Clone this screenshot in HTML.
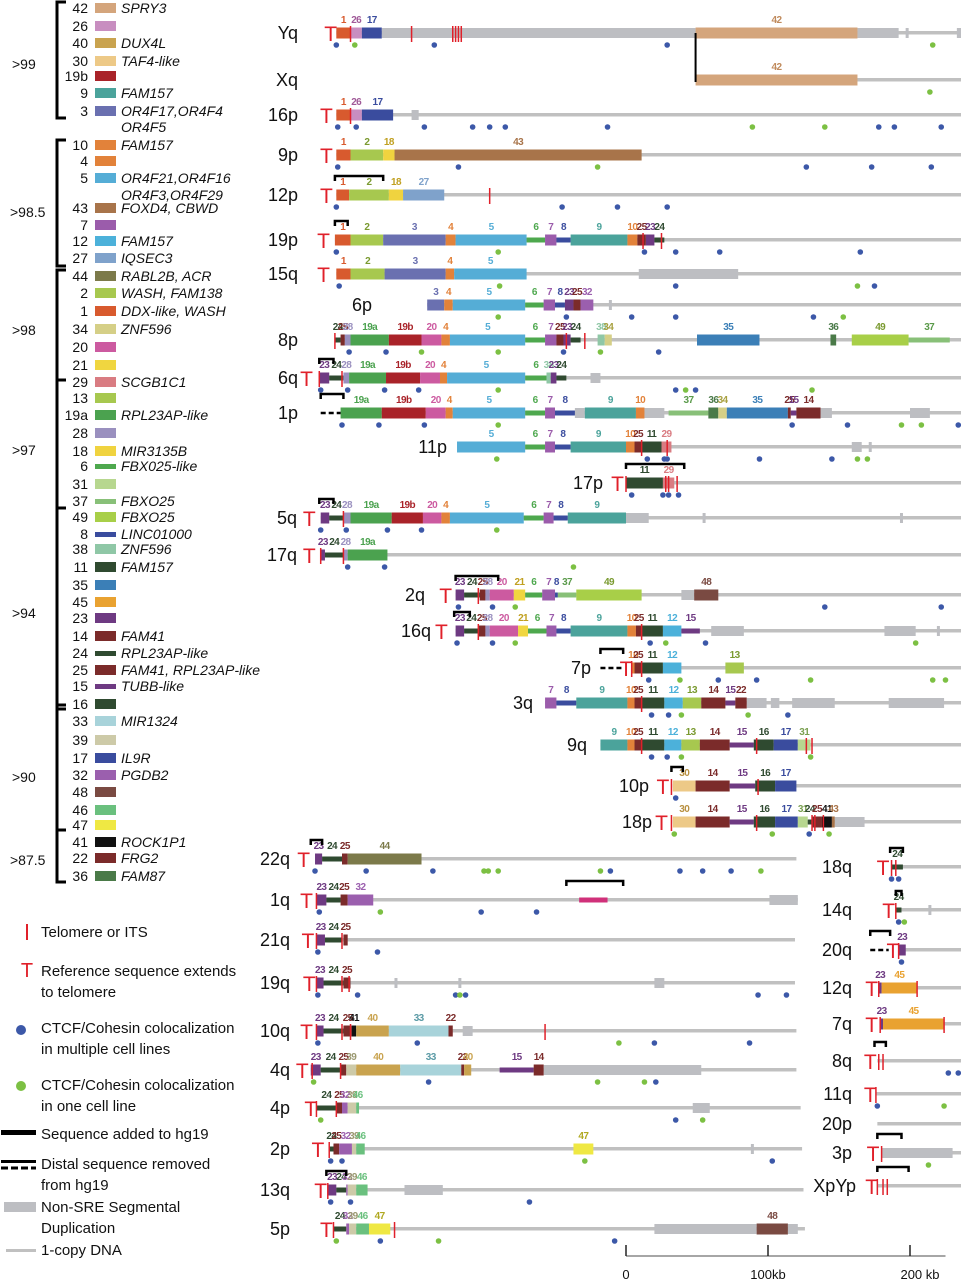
<!DOCTYPE html>
<html><head><meta charset="utf-8"><title>Subtelomere map</title>
<style>
html,body{margin:0;padding:0;background:#fff;}
svg{display:block;font-family:"Liberation Sans",sans-serif;}
.lg{font-size:14px;fill:#111;}
.lgi{font-size:14px;fill:#111;font-style:italic;}
.rl{font-size:18px;fill:#111;}
.nl{font-size:10px;font-weight:bold;letter-spacing:-0.6px;}
.bl{font-size:15px;fill:#111;}
</style></head>
<body>
<svg id="chart" width="961" height="1280" viewBox="0 0 961 1280">
<g id="legend"></g>
<g id="brackets"></g>
<g id="rows"></g>
<g id="keys">
  <line x1="27" y1="924" x2="27" y2="940" stroke="#e0202a" stroke-width="2"/>
  <text x="41" y="937" class="bl">Telomere or ITS</text>
  <text x="27" y="977" font-size="20" fill="#e0202a" text-anchor="middle">T</text>
  <text x="41" y="976" class="bl">Reference sequence extends</text>
  <text x="41" y="997" class="bl">to telomere</text>
  <circle cx="21" cy="1030" r="5" fill="#3c58a8"/>
  <text x="41" y="1033" class="bl">CTCF/Cohesin colocalization</text>
  <text x="41" y="1054" class="bl">in multiple cell lines</text>
  <circle cx="21" cy="1086" r="5" fill="#7cc043"/>
  <text x="41" y="1090" class="bl">CTCF/Cohesin colocalization</text>
  <text x="41" y="1111" class="bl">in one cell line</text>
  <rect x="1" y="1130" width="35" height="5" fill="#000"/>
  <text x="41" y="1139" class="bl">Sequence added to hg19</text>
  <rect x="1" y="1160" width="35" height="3" fill="#000"/>
  <line x1="1" y1="1168" x2="36" y2="1168" stroke="#000" stroke-width="3" stroke-dasharray="7,3"/>
  <text x="41" y="1169" class="bl">Distal sequence removed</text>
  <text x="41" y="1190" class="bl">from hg19</text>
  <rect x="4" y="1202" width="32" height="10" fill="#bdbec2"/>
  <text x="41" y="1212" class="bl">Non-SRE Segmental</text>
  <text x="41" y="1233" class="bl">Duplication</text>
  <rect x="6" y="1249" width="30" height="3" fill="#c0c0c0"/>
  <text x="41" y="1255" class="bl">1-copy DNA</text>
</g>
<g id="scale"></g>
</svg>
<script>
// ---------- data ----------
const rowNames = ["Yq","Xq","16p","9p","12p","19p","15q","6p","8p","6q","1p","11p","17p","5q","17q","2q","16q","7p","3q","9q","10p","18p","22q","1q","21q","19q","10q","4q","4p","2p","13q","5p","18q","14q","20q","12q","7q","8q","11q","20p","3p","XpYp"];
const segData = {
 Yq:[[1,-204,-194],[26,-194,-186],[17,-186,-172],[42,49,163]],
 Xq:[[42,49,163]],
 "16p":[[1,-204,-194],[26,-194,-186],[17,-186,-164]],
 "9p":[[1,-204,-194],[2,-194,-171],[18,-171,-163],[43,-163,11]],
 "12p":[[1,-204,-195],[2,-195,-167],[18,-167,-157],[27,-157,-128]],
 "19p":[[1,-205,-194],[2,-194,-171],[3,-171,-127],[4,-127,-120],[5,-120,-70],[6,-70,-57],[7,-57,-49],[8,-49,-39],[9,-39,1],[10,1,8],[25,8,14],[23,14,20],[24,20,27]],
 "15q":[[1,-204,-194],[2,-194,-170],[3,-170,-127],[4,-127,-121],[5,-121,-70]],
 "6p":[[3,-140,-128],[4,-128,-122],[5,-122,-71],[6,-71,-58],[7,-58,-50],[8,-50,-43],[23,-43,-37],[25,-37,-32],[32,-32,-23]],
 "8p":[[24,-205,-201],[25,-201,-198],[28,-198,-194],["19a",-194,-167],["19b",-167,-144],[20,-144,-130],[4,-130,-124],[5,-124,-71],[6,-71,-57],[7,-57,-49],[25,-49,-44],[23,-44,-39],[24,-39,-32],[38,-20,-15],[34,-15,-10],[35,50,94],[36,144,148],[49,159,199],[37,199,228]],
 "6q":[[23,-216,-209],[24,-209,-199],[28,-199,-195],["19a",-195,-169],["19b",-169,-145],[20,-145,-131],[4,-131,-126],[5,-126,-71],[6,-71,-56],[38,-56,-53],[23,-53,-49],[24,-49,-42]],
 "1p":[["19a",-201,-172],["19b",-172,-141],[20,-141,-127],[4,-127,-122],[5,-122,-71],[6,-71,-57],[7,-57,-50],[8,-50,-36],[9,-29,7],[10,7,13],[37,30,58],[36,58,65],[34,65,71],[35,71,114],[25,114,116],[15,116,120],[14,120,137]],
 "11p":[[5,-119,-71],[6,-71,-57],[7,-57,-50],[8,-50,-39],[9,-39,0],[10,0,6],[25,6,11],[11,11,25],[29,25,32]],
 "17p":[[11,0,26],[29,26,34]],
 "5q":[[23,-215,-209],[24,-209,-199],[28,-199,-194],["19a",-194,-165],["19b",-165,-143],[20,-143,-130],[4,-130,-124],[5,-124,-72],[6,-72,-58],[7,-58,-51],[8,-51,-41],[9,-41,0]],
 "17q":[[23,-215,-212],[24,-212,-199],[28,-199,-196],["19a",-196,-168]],
 "2q":[[23,-120,-114],[24,-114,-103],[25,-103,-99],[28,-99,-96],[20,-96,-79],[21,-79,-71],[6,-71,-59],[7,-59,-50],[8,-50,-48],[37,-48,-35],[49,-35,11],[48,48,65]],
 "16q":[[23,-120,-114],[24,-114,-104],[25,-104,-99],[28,-99,-96],[20,-96,-76],[21,-76,-69],[6,-69,-56],[7,-56,-49],[8,-49,-39],[9,-39,1],[10,1,7],[25,7,11],[11,11,26],[12,26,39],[15,39,52]],
 "7p":[[10,4,6],[25,6,11],[11,11,26],[12,26,39],[13,70,83]],
 "3q":[[7,-57,-49],[8,-49,-35],[9,-35,1],[10,1,6],[25,6,11],[11,11,27],[12,27,40],[13,40,53],[14,53,70],[15,70,77],[22,77,85]],
 "9q":[[9,-18,1],[10,1,6],[25,6,11],[11,11,27],[12,27,39],[13,39,52],[14,52,73],[15,73,90],[16,90,104],[17,104,121],[31,121,130]],
 "10p":[[30,33,49],[14,49,73],[15,73,91],[16,91,105],[17,105,120]],
 "18p":[[30,33,49],[14,49,73],[15,73,90],[16,90,105],[17,105,121],[31,121,128],[24,128,131],[25,131,138],[41,138,145],[43,145,147]],
 "22q":[[23,-219,-214],[24,-214,-200],[25,-200,-196],[44,-196,-144]],
 "1q":[[23,-218,-211],[24,-211,-201],[25,-201,-196],[32,-196,-178],["p",-33,-13]],
 "21q":[[23,-218,-212],[24,-212,-200],[25,-199,-196]],
 "19q":[[23,-218,-213],[24,-213,-199],[25,-199,-194]],
 "10q":[[23,-218,-213],[24,-213,-199],[25,-199,-193],[41,-193,-190],[40,-190,-167],[33,-167,-125],[22,-125,-122]],
 "4q":[[23,-222,-215],[24,-215,-201],[25,-201,-197],[39,-197,-190],[40,-190,-159],[33,-159,-116],[22,-116,-114],[40,-114,-109],[15,-89,-65],[14,-65,-58]],
 "4p":[[24,-218,-204],[25,-204,-200],[32,-200,-196],[39,-196,-190],[46,-190,-188]],
 "2p":[[24,-209,-206],[25,-206,-202],[32,-202,-193],[39,-193,-190],[46,-190,-184],[47,-37,-23]],
 "13q":[[23,-210,-204],[24,-204,-197],[32,-197,-196],[39,-196,-190],[46,-190,-182]],
 "5p":[[24,-206,-197],[32,-197,-195],[39,-195,-190],[46,-190,-181],[47,-181,-166],[48,92,114]],
 "18q":[[24,187,195]],
 "14q":[[24,190,194]],
 "20q":[[23,192,197]],
 "12q":[[23,178,180],[45,180,205]],
 "7q":[[23,179,181],[45,181,224]]
};
const lineData = {Yq:[-204,236],Xq:[49,236],"16p":[-204,236],"9p":[-204,236],"12p":[-204,236],"19p":[-205,236],"15q":[-204,236],"6p":[-140,236],"8p":[-205,236],"6q":[-216,236],"1p":[-201,236],"11p":[-119,236],"17p":[0,236],"5q":[-215,236],"17q":[-215,236],"2q":[-120,236],"16q":[-120,236],"7p":[4,236],"3q":[-57,236],"9q":[-18,236],"10p":[33,236],"18p":[33,236],"22q":[-219,120],"1q":[-218,121],"21q":[-218,119],"19q":[-218,119],"10q":[-218,120],"4q":[-222,120],"4p":[-218,123],"2p":[-209,124],"13q":[-210,125],"5p":[-206,126],"18q":[187,236],"14q":[190,236],"20q":[192,236],"12q":[178,236],"7q":[179,236],"8q":[177,236],"11q":[176,236],"20p":[177,236],"3p":[180,236],"XpYp":[177,236]};
const sdData = {Yq:[[-172,49],[163,192],[233,236]],"16p":[[-151,-146]],"15q":[[9,79]],"6q":[[-25,-18]],"1p":[[-36,-29],[13,27],[137,145],[200,214]],"11p":[[159,166]],"5q":[[0,16]],"2q":[[39,48]],"16q":[[60,83],[182,204]],"3q":[[85,99],[102,108],[117,147],[185,224]],"18p":[[147,168]],"1q":[[101,121]],"19q":[[20,27]],"10q":[[-115,-108]],"4q":[[-58,53]],"4p":[[47,59]],"13q":[[-156,-129]],"5p":[[20,92],[114,121]],"3p":[[180,230]]};
const sdTicks = {Yq:[198],"6p":[-11],"11p":[172],"5q":[55,194],"16q":[220],"19q":[-162,-117],"2p":[89],"14q":[214]};
const telData = {Yq:[-194,-151,-122,-120,-118,-116],"16p":[-194],"12p":[-96],"19p":[12,25],"8p":[-205,-42,-29],"6q":[-216,-200],"11p":[11,29],"17p":[0,28,30,36],"5q":[-199],"17q":[-215,-199],"2q":[-104],"16q":[-104,11],"7p":[4,11],"3q":[11],"9q":[11,92,127,131],"10p":[32,93],"18p":[32,92,131,133,139],"1q":[-218],"21q":[-218,-200],"19q":[-218,-200,-195],"10q":[-218,-200,-194,-57],"4q":[-221,-201],"4p":[-218,-204],"2p":[-209],"13q":[-210],"5p":[-206,-163],"18q":[187,190],"14q":[190],"20q":[192],"12q":[178,205],"7q":[179,224],"8q":[178,181],"11q":[176],"3p":[180],"XpYp":[177,181,184]};
const tMarks = {Yq:-208,"16p":-211,"9p":-211,"12p":-211,"19p":-213,"15q":-213,"6q":-225,"5q":-223,"17q":-223,"2q":-127,"16q":-130,"7p":0,"17p":-6,"10p":26,"18p":25,"22q":-227,"1q":-225,"21q":-224,"19q":-223,"10q":-225,"4q":-228,"4p":-222,"2p":-217,"13q":-215,"5p":-211,"18q":181,"14q":185,"20q":188,"12q":173,"7q":173,"8q":172,"11q":172,"3p":174,"XpYp":173};
const ctcfMulti = {Yq:[-204,-135,29],"16p":[-203,-190,-142,-108,-96,-85,-13,178,189,222],"9p":[-203,-118,127,173,215],"12p":[-204,-45,-6,29],"19p":[-204,13,35,66,165],"15q":[-202,35,175],"6p":[-42,4,35,132],"8p":[-195,-169,-44,23],"6q":[-215,-196,-170,-146,35,49],"1p":[-200,-174,-142,117,156,234],"11p":[15,27,29,94,145],"17p":[4,26,30,37],"5q":[-215,-197,-168,-144],"17q":[-196,-170],"2q":[-118,-94,140,222],"16q":[-119,-94,17,56],"7p":[16,65,92],"3q":[18,30,114],"9q":[18,29],"10p":[35],"18p":[129],"22q":[-219,-183,-136,-11,38,54,74],"1q":[-216,-102,-63],"21q":[-217,-175],"19q":[-217,-189,-120,-113,93,113],"10q":[-217,-147,20,87],"4q":[-139,21],"4p":[35],"2p":[-208,-200,103],"13q":[-208,-194,-68],"5p":[-173,-8],"18q":[187,192],"14q":[192],"20q":[194],"8q":[227,234],"11q":[177]};
const ctcfOne = {Yq:[-191,216],Xq:[214],"16p":[89,140],"9p":[-20],"19p":[-90],"15q":[-89,163],"6p":[-90,153],"8p":[-144,-90,-18],"6q":[-90,42,131],"1p":[-90,194,208],"11p":[-91,163,170],"5q":[-91],"17q":[-37],"2q":[-78],"16q":[-78,28,204],"7p":[38,130,216,225],"3q":[39,86],"9q":[39,130],"18p":[34,103,143],"22q":[-100,-97,-90,-18,95],"1q":[-173],"19q":[-117],"10q":[-5],"4q":[-220,-20,13],"4p":[-215,54],"2p":[-29],"5p":[-204,-132],"14q":[196],"11q":[224],"3p":[213]};
const addedData = {"12p":[-205,-171],"19p":[-205,-196],"6q":[-216,-206],"1p":[-215,-199],"17p":[0,41],"5q":[-216,-206],"2q":[-120,-90],"16q":[-121,-110],"7p":[-18,-2],"10p":[32,40],"22q":[-222,-214],"1q":[-42,-2],"13q":[-211,-197],"18q":[186,195],"14q":[190,194],"20q":[172,186],"8q":[175,183],"3p":[177,194],"XpYp":[177,199]};
const removedData = {"1p":[-215,-201],"7p":[-18,-3],"20q":[172,185]};
const scaleTicks = [0,100,200];
const scaleLabels = ["0","100kb","200 kb"];
const legendIds = ["42","26","40","30","19b","9","3","10","4","5","43","7","12","27","44","2","1","34","20","21","29","13","19a","28","18","6","31","37","49","8","38","11","35","45","23","14","24","25","15","16","33","39","17","32","48","46","47","41","22","36"];
const legendGenes = ["SPRY3","","DUX4L","TAF4-like","","FAM157","OR4F17,OR4F4","FAM157","","OR4F21,OR4F16","FOXD4, CBWD","","FAM157","IQSEC3","RABL2B, ACR","WASH, FAM138","DDX-like, WASH","ZNF596","","","SCGB1C1","","RPL23AP-like","","MIR3135B","FBX025-like","","FBXO25","FBXO25","LINC01000","ZNF596","FAM157","","","","FAM41","RPL23AP-like","FAM41, RPL23AP-like","TUBB-like","","MIR1324","","IL9R","PGDB2","","","","ROCK1P1","FRG2","FAM87"];
const groupLabels = [">99",">98.5",">98",">97",">94",">90",">87.5"];

// ---------- layout / style ----------
const COL={'1':'#d85a2e','2':'#a7c84f','3':'#6a70b0','4':'#e2823a','5':'#55add6','6':'#4ea84e','7':'#9b5cab','8':'#3a4c9e','9':'#4ba39b','10':'#e2823a','11':'#2f4a30','12':'#4cb1da','13':'#a7c84f','14':'#7b2b2a','15':'#6e3a82','16':'#2f4a30','17':'#3a4c9e','18':'#f0d33f','19a':'#4ba24f','19b':'#a92329','20':'#cc5aa0','21':'#f0d640','22':'#7b2b2a','23':'#6e3a82','24':'#2f4a30','25':'#7b2b2a','26':'#c88ec0','27':'#7fa2cb','28':'#9a90bf','29':'#d97c82','30':'#edc987','31':'#b7d78f','32':'#9b5fae','33':'#a8d3da','34':'#d5cf87','35':'#3b7fb7','36':'#4a7a48','37':'#88c078','38':'#8fc7a6','39':'#cdcaa8','40':'#c9a34f','41':'#111111','42':'#d4a57c','43':'#a8744a','44':'#7c7a4a','45':'#e9a231','46':'#6ac07e','47':'#efe843','48':'#7a4a42','49':'#a8cf48','p':'#d0307a'};
const LBLCOL={'30':'#b89040','31':'#7aa050','33':'#5a9aa5','34':'#a8a040','39':'#9a9870','26':'#a05a98','47':'#b0a820','18':'#c0a020','21':'#c0a020','42':'#c08a5c','2':'#7a9a30','13':'#7a9a30','49':'#7a9a30','37':'#5a9a4a'};
const THIN=new Set(['6','8','24','15','37','p']);
const rowY=[33,80,115,155,195,240,274,305,340,378,413,447,483,518,555,595,631,668,703,745,786,822,859,900,940,983,1031,1070,1108,1149,1190,1229,867,910,950,988,1024,1061,1094,1124,1153,1186];
const rowLabelX=[298,298,298,298,298,298,298,372,298,298,298,447,603,297,297,425,431,591,533,587,649,652,290,290,290,290,290,290,290,290,290,290,852,852,852,852,852,852,852,852,852,856];
const legendY=[8,26,43,61,76,93,111,145,161,178,208,225,241,258,276,293,311,329,347,365,382,398,415,433,451,466,484,501,517,534,549,567,585,602,618,636,653,670,686,704,721,740,758,775,792,810,825,842,858,876];
const groupY=[64,212,330,450,613,777,860];

const NS="http://www.w3.org/2000/svg";
const X = kb => 626 + kb*1.42;
function mk(tag, parent, attrs){const e=document.createElementNS(NS,tag);for(const k in attrs)e.setAttribute(k,attrs[k]);parent.appendChild(e);return e;}

// ---------- legend ----------
const lg=document.getElementById('legend');
legendIds.forEach((id,i)=>{
  const y=legendY[i];
  const n=mk('text',lg,{x:88,y:y+5,'text-anchor':'end',class:'lg'});
  n.textContent=id;
  
  
  const th=THIN.has(id);
  const sw=mk('rect',lg,{x:95,y:th?y-2:y-5,width:21,height:th?5:10,fill:COL[id]});
  
  
  if(legendGenes[i]){
    const g=mk('text',lg,{x:121,y:y+5,class:'lgi'});
    g.textContent=legendGenes[i];
    
    
  }
});
[["OR4F5",127],["OR4F3,OR4F29",195]].forEach(([t,y])=>{
  const g=mk('text',lg,{x:121,y:y+5,class:'lgi'});
  g.textContent=t;
  
  
});
const br=document.getElementById('brackets');
const bp="M66 2 H57 V118 H66 M66 140 H57 V266 H66 M66 270 H57 V882 H66 M57 380 H66 M57 508 H66 M57 705 H66 M57 709 H66 M57 830 H66";
const bpath=mk('path',br,{d:bp,stroke:'#000','stroke-width':3,fill:'none'});


groupLabels.forEach((t,i)=>{
  const e=mk('text',br,{x:t.length>3?10:12,y:groupY[i]+5,class:'lg'});
  e.textContent=t;
  
  
});

// ---------- rows ----------
const rowsG=document.getElementById('rows');
rowNames.forEach((name,i)=>{
  const y=rowY[i];
  const g=mk('g',rowsG,{});
  
  
  const lab=mk('text',g,{x:rowLabelX[i],y:y+6,'text-anchor':'end',class:'rl'});
  lab.textContent=name;
  
  
  const ld=lineData[name];
  if(ld){
    const l=mk('rect',g,{x:X(ld[0]),y:y-2,width:X(ld[1])-X(ld[0]),height:3.5,fill:'#c0c0c0'});
    
    
  }
  (sdData[name]||[]).forEach(s=>{
    const r=mk('rect',g,{x:X(s[0]),y:y-5,width:X(s[1])-X(s[0]),height:10,fill:'#bdbec2'});
    
    
  });
  (sdTicks[name]||[]).forEach(t=>{
    const r=mk('rect',g,{x:X(t)-1.5,y:y-5,width:3,height:10,fill:'#bdbec2'});
    
    
  });
  (segData[name]||[]).forEach(s=>{
    const id=String(s[0]);const th=THIN.has(id);
    const r=mk('rect',g,{x:X(s[1]),y:th?y-2.5:y-5.5,width:Math.max(1,X(s[2])-X(s[1])),height:th?5:11,fill:COL[id]});
    
    
    if(id!=='p'){
      const t=mk('text',g,{x:(X(s[1])+X(s[2]))/2,y:y-10,'text-anchor':'middle',class:'nl',fill:LBLCOL[id]||COL[id]});
      t.textContent=id;
      
      
    }
  });
  (telData[name]||[]).forEach(t=>{
    const l=mk('line',g,{x1:X(t),y1:y-7,x2:X(t),y2:y+9,stroke:'#e0202a','stroke-width':1.5});
    
    
  });
  if(tMarks[name]!==undefined){
    const t=mk('text',g,{x:X(tMarks[name]),y:y+8,'text-anchor':'middle','font-size':21,fill:'#e0202a'});
    t.textContent='T';
    
    
  }
  (ctcfMulti[name]||[]).forEach(d=>{
    const c=mk('circle',g,{cx:X(d),cy:y+12,r:2.8,fill:'#3c58a8'});
    
    
  });
  (ctcfOne[name]||[]).forEach(d=>{
    const c=mk('circle',g,{cx:X(d),cy:y+12,r:2.8,fill:'#7cc043'});
    
    
  });
  const a=addedData[name];
  if(a){
    const yb=y-19;
    const p=mk('path',g,{d:`M${X(a[0])} ${yb+5} V${yb} H${X(a[1])} V${yb+5}`,stroke:'#000','stroke-width':2.5,fill:'none'});
    
    
  }
  const rm=removedData[name];
  if(rm){
    const l=mk('line',g,{x1:X(rm[0]),y1:y,x2:X(rm[1]),y2:y,stroke:'#000','stroke-width':2.5,'stroke-dasharray':'5,3'});
    
    
  }
});
const conn=mk('line',rowsG,{x1:X(49),y1:33,x2:X(49),y2:82,stroke:'#000','stroke-width':2});



// ---------- scale bar ----------
const sc=document.getElementById('scale');
const sl=mk('line',sc,{x1:X(0),y1:1256,x2:X(225),y2:1256,stroke:'#888','stroke-width':1.5});


scaleTicks.forEach((v,i)=>{
  const t=mk('line',sc,{x1:X(v),y1:1245,x2:X(v),y2:1256,stroke:'#222','stroke-width':1.5});
  
  
  const lb=mk('text',sc,{x:X(v)+(i===2?10:0),y:1279,'text-anchor':'middle','font-size':13,fill:'#111'});
  lb.textContent=scaleLabels[i];
  
  
});
</script>
</body></html>
